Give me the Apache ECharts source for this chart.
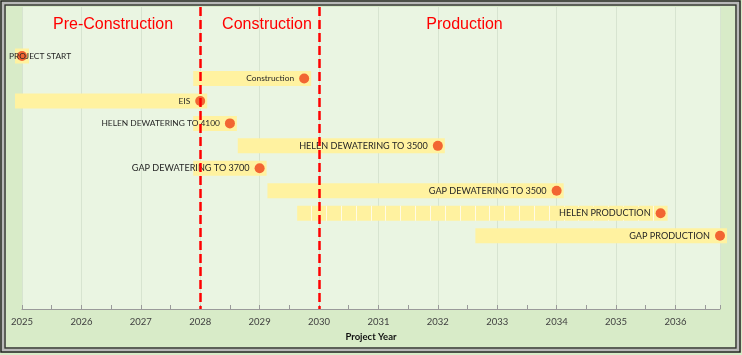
<!DOCTYPE html>
<html>
<head>
<meta charset="utf-8">
<script src="https://cdn.jsdelivr.net/npm/echarts@6/dist/echarts.min.js"></script>
<style>
html,body{margin:0;padding:0;background:#fff;}
#chart{width:742px;height:355px;}
</style>
</head>
<body>
<div id="chart"></div>
<script>
// ---- data ----
const tasks = ['PROJECT START', 'Construction', 'EIS', 'HELEN DEWATERING TO 4100',
  'HELEN DEWATERING TO 3500', 'GAP DEWATERING TO 3700', 'GAP DEWATERING TO 3500',
  'HELEN PRODUCTION', 'GAP PRODUCTION'];
const startYear = [2025, 2028, 2025, 2028, 2028.75, 2028, 2029.25, 2029.75, 2032.75];
const endYear   = [2025, 2029.75, 2028, 2028.5, 2032, 2029, 2034, 2035.75, 2036.75];
const phaseNames = ['Pre-Construction', 'Construction', 'Production'];
const phaseLines = [2028, 2030];
const yearTicks = [2025, 2026, 2027, 2028, 2029, 2030, 2031, 2032, 2033, 2034, 2035, 2036];
const axisMin = 2025, axisMax = 2036.75;

// ---- chart ----
const chart = echarts.init(document.getElementById('chart'), null, {renderer: 'canvas'});
const LABEL_FONT = 'Lato, "Liberation Sans", sans-serif';
const AXIS_FONT = 'Lato, "Liberation Sans", sans-serif';
const BAR_H = 15, PAD = 7;

const barData = tasks.map((t, i) => [startYear[i], endYear[i], i]);
const dotData = tasks.map((t, i) => {
  const big = i >= 4;
  const item = {
    value: [endYear[i], i],
    name: t,
    label: {fontSize: big ? 9.1 : 8.4}
  };
  if (t === 'PROJECT START') {
    item.label.align = 'left';
    item.label.distance = 8;
  }
  if (t === 'HELEN PRODUCTION') {
    item.label.backgroundColor = '#fff2a0';
    item.label.padding = [2, 1, 2, 4];
    item.label.distance = 4;
  }
  return item;
});

const option = {
  backgroundColor: '#d8ebc8',
  animation: false,
  grid: {left: 22, right: 22, top: 7, bottom: 46, show: true,
         backgroundColor: '#eaf5e2', borderWidth: 0},
  xAxis: [{
    type: 'value', min: axisMin, max: axisMax, interval: 0.5,
    axisLine: {show: true, onZero: false, lineStyle: {color: '#9a9a9a', width: 1}},
    axisTick: {show: true, inside: true, length: 4, lineStyle: {color: '#9a9a9a'}},
    splitLine: {show: false},
    axisLabel: {
      margin: 8, color: '#404040', fontSize: 9.5, fontFamily: AXIS_FONT,
      formatter: v => (yearTicks.indexOf(v) >= 0 ? String(v) : '')
    },
    name: 'Project Year', nameLocation: 'middle', nameGap: 22,
    nameTextStyle: {fontWeight: 'bold', fontSize: 9.5, color: '#111', fontFamily: AXIS_FONT}
  }, {
    type: 'value', min: axisMin, max: axisMax, interval: 1, position: 'bottom',
    axisLine: {show: false, onZero: false}, axisTick: {show: false}, axisLabel: {show: false},
    splitLine: {show: true, lineStyle: {color: '#d7e4d0', width: 1}}
  }],
  yAxis: {
    type: 'value', inverse: true, min: -2.18, max: 11.26, show: false,
    axisLine: {show: false, onZero: false},
    splitLine: {show: false}
  },
  series: [{
    type: 'custom',
    xAxisIndex: 0,
    data: barData,
    encode: {x: [0, 1], y: 2},
    renderItem: function (params, api) {
      const row = api.value(2);
      const s = api.coord([api.value(0), row]);
      const e = api.coord([api.value(1), row]);
      const x0 = s[0] - PAD, x1 = e[0] + PAD;
      const children = [{
        type: 'rect',
        shape: {x: x0, y: s[1] - BAR_H / 2, width: x1 - x0, height: BAR_H},
        style: {fill: '#fff2a0'}
      }];
      if (tasks[params.dataIndex] === 'HELEN PRODUCTION') {
        for (let q = api.value(0); q < api.value(1); q += 0.25) {
          const px = Math.round(api.coord([q, row])[0] + PAD) + 0.5;
          children.push({
            type: 'line',
            shape: {x1: px, y1: s[1] - BAR_H / 2, x2: px, y2: s[1] + BAR_H / 2},
            style: {stroke: '#fffbe6', lineWidth: 1}
          });
        }
      }
      return {type: 'group', children: children};
    },
    markLine: {
      silent: true, symbol: 'none', animation: false,
      label: {show: false},
      lineStyle: {color: '#ff0000', width: 2.5, type: [9, 4]},
      data: phaseLines.map(v => ({xAxis: v}))
    },
    z: 2
  }, {
    type: 'scatter',
    xAxisIndex: 0,
    data: dotData,
    symbol: 'circle',
    symbolSize: 10,
    itemStyle: {color: '#f26532', opacity: 1},
    label: {
      show: true, position: 'left', distance: 5,
      formatter: p => p.name,
      color: '#262626', fontFamily: LABEL_FONT
    },
    z: 3
  }],
  graphic: {elements: [
    {type: 'rect', shape: {x: 1, y: 1, width: 739, height: 351},
     style: {fill: 'none', stroke: '#1e1e1e', lineWidth: 1.5}, z: 100},
    {type: 'rect', shape: {x: 3, y: 3, width: 735, height: 347},
     style: {fill: 'none', stroke: '#b8b8b8', lineWidth: 2}, z: 100},
    {type: 'rect', shape: {x: 5, y: 5, width: 731, height: 343},
     style: {fill: 'none', stroke: '#333333', lineWidth: 1.5}, z: 100},
    {type: 'text', x: 113, y: 25, z: 100,
     style: {text: phaseNames[0], fill: '#ff0000', font: '16px "Liberation Sans", Arial, sans-serif', align: 'center', verticalAlign: 'middle'}},
    {type: 'text', x: 267, y: 25, z: 100,
     style: {text: phaseNames[1], fill: '#ff0000', font: '16px "Liberation Sans", Arial, sans-serif', align: 'center', verticalAlign: 'middle'}},
    {type: 'text', x: 464.5, y: 25, z: 100,
     style: {text: phaseNames[2], fill: '#ff0000', font: '16px "Liberation Sans", Arial, sans-serif', align: 'center', verticalAlign: 'middle'}}
  ]}
};
chart.setOption(option);
</script>
</body>
</html>
